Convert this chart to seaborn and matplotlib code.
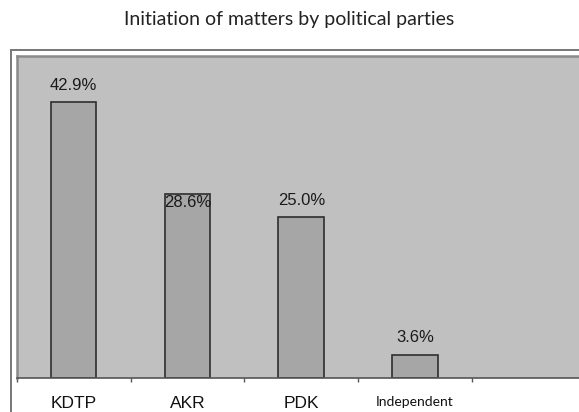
import matplotlib
matplotlib.use("Agg")
import matplotlib.pyplot as plt
import matplotlib.patches as patches
import pandas as pd
import seaborn as sns

# --- data
parties = ["KDTP", "AKR", "PDK", "Independent"]
shares = [42.9, 28.6, 25.0, 3.6]
share_labels = ["42.9%", "28.6%", "25.0%", "3.6%"]

df = pd.DataFrame({"party": parties, "share": shares})

sns.set_theme(style="white")
plt.rcParams["font.family"] = ["Liberation Sans", "DejaVu Sans"]

W, H = 579, 412
fig = plt.figure(figsize=(W / 100, H / 100), dpi=100)
fig.patch.set_facecolor("white")

# outer white frame with grey border (runs off the bottom/right)
frame = patches.Rectangle((10.7 / W, -0.2), 1.2, 0.2 + (H - 50) / H,
                          transform=fig.transFigure, facecolor="white",
                          edgecolor="#777777", linewidth=1.4, zorder=-10)
fig.patches.append(frame)

left, right = 16.7 / W, 1.0
bottom, top = (H - 377.7) / H, (H - 56) / H
ax = fig.add_axes([left, bottom, right - left, top - bottom])
ax.set_zorder(1)
ax.set_facecolor("#c0c0c0")

sns.barplot(data=df, x="party", y="share", color="#a6a6a6", saturation=1,
            width=0.4, edgecolor="#2e2e2e", linewidth=1.2, ax=ax)

ax.set_xlim(-0.5, 4.44)
ax.set_ylim(0, 50)
ax.set_xlabel("")
ax.set_ylabel("")
ax.set_yticks([])

# value labels above bars
for i, (v, lab) in enumerate(zip(shares, share_labels)):
    dy = 12 if i != 1 else -6
    ax.annotate(lab, (i, v), xytext=(0, dy), textcoords="offset points",
                ha="center", va="center", fontsize=12, color="#1a1a1a")

# tick marks at category boundaries, labels at centers
ax.set_xticks(range(len(parties)))
ax.set_xticks([-0.5, 0.5, 1.5, 2.5, 3.5], minor=True)
ax.tick_params(axis="x", which="major", length=0, pad=13, labelsize=12.5,
               labelcolor="#111111")
ax.tick_params(axis="x", which="minor", length=3, width=1, color="#555555",
               direction="out", bottom=True)
for t in ax.get_xticklabels():
    if t.get_text() == "Independent":
        t.set_fontsize(10)
        t.set_family(["Lato", "DejaVu Sans"])

for s in ["top", "left"]:
    ax.spines[s].set_color("#8a8a8a")
    ax.spines[s].set_linewidth(1.8)
ax.spines["bottom"].set_color("#555555")
ax.spines["bottom"].set_linewidth(1.2)
ax.spines["right"].set_visible(False)

fig.text(0.5, 1 - 20 / H, "Initiation of matters by political parties",
         ha="center", va="center", fontsize=14, color="#222222",
         family=["Lato", "DejaVu Sans"])

fig.savefig("out.png", dpi=100)
